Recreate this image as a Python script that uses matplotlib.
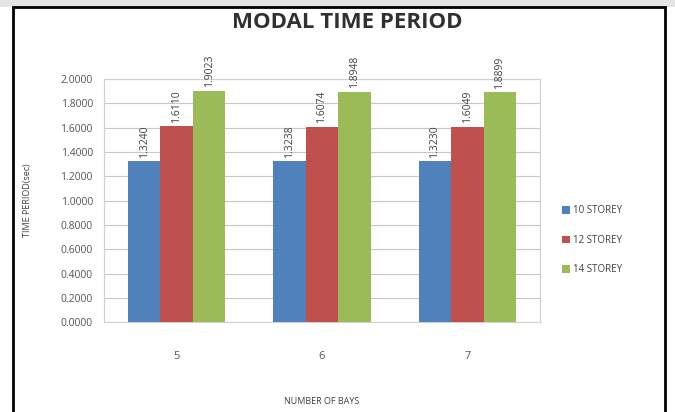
import numpy as np
import matplotlib
matplotlib.use("Agg")
from matplotlib import pyplot as plt
from matplotlib.patches import Rectangle

bays = ['5', '6', '7']
storey_10 = [1.3240, 1.3238, 1.3230]
storey_12 = [1.6110, 1.6074, 1.6049]
storey_14 = [1.9023, 1.8948, 1.8899]
series_names = ['10 STOREY', '12 STOREY', '14 STOREY']
yticks = [0.0, 0.2, 0.4, 0.6, 0.8, 1.0, 1.2, 1.4, 1.6, 1.8, 2.0]

plt.rcParams['font.family'] = ['Open Sans', 'DejaVu Sans']

fig = plt.figure(figsize=(6.75, 4.12), dpi=100)
ax = fig.add_axes([0.154, 0.218, 0.646, 0.590])

# frame around the chart, with a faded strip above it
fig.patches.append(Rectangle((0, 0.982), 1, 0.018, transform=fig.transFigure,
                             facecolor='#e4e4e4', edgecolor='none', zorder=0))
fig.patches.append(Rectangle((13 / 675, -0.05), 652 / 675, 1.032, transform=fig.transFigure,
                             facecolor='none', edgecolor='black', linewidth=2, zorder=5))

x = np.arange(len(bays))
width = 0.223
colors = ['#4F81BD', '#C0504D', '#9BBB59']
for i, (vals, name, c) in enumerate(zip([storey_10, storey_12, storey_14], series_names, colors)):
    pos = x + (i - 1) * width
    ax.bar(pos, vals, width, color=c, label=name, zorder=3)
    for px, v in zip(pos, vals):
        ax.text(px, v + 0.03, f"{v:.4f}", rotation=90, ha='center', va='bottom',
                fontsize=7.5, color='#404040')

ax.set_xlim(-0.5, 2.5)
ax.set_ylim(0, 2.0)
ax.set_yticks(yticks)
ax.set_yticklabels([f"{t:.4f}" for t in yticks], fontsize=7.5, color='#555555')
ax.set_xticks(x)
ax.set_xticklabels(bays, fontsize=8, color='#555555')
ax.tick_params(axis='x', length=0, pad=21)
ax.tick_params(axis='y', length=0, pad=8)
ax.grid(axis='y', color='#c8c8c8', linewidth=0.8, zorder=0)
for s in ax.spines.values():
    s.set_color('#d0d0d0')

fig.text(322 / 675, 1 - 401 / 412, 'NUMBER OF BAYS', ha='center', va='center',
         fontsize=6.5, color='#404040')
ax.set_ylabel('TIME PERIOD(sec)', fontsize=6.5, color='#404040')
ax.yaxis.set_label_coords(-0.165, 0.5)
fig.text(0.515, 0.945, 'MODAL TIME PERIOD', ha='center', va='center',
         fontsize=16, fontweight='bold', color='#303030')

ax.legend(loc='center left', bbox_to_anchor=(1.03, 0.337), frameon=False,
          fontsize=7, handlelength=0.8, handleheight=0.8, labelspacing=1.9,
          handletextpad=0.4, labelcolor='#404040')

fig.savefig('out.png', dpi=100)
